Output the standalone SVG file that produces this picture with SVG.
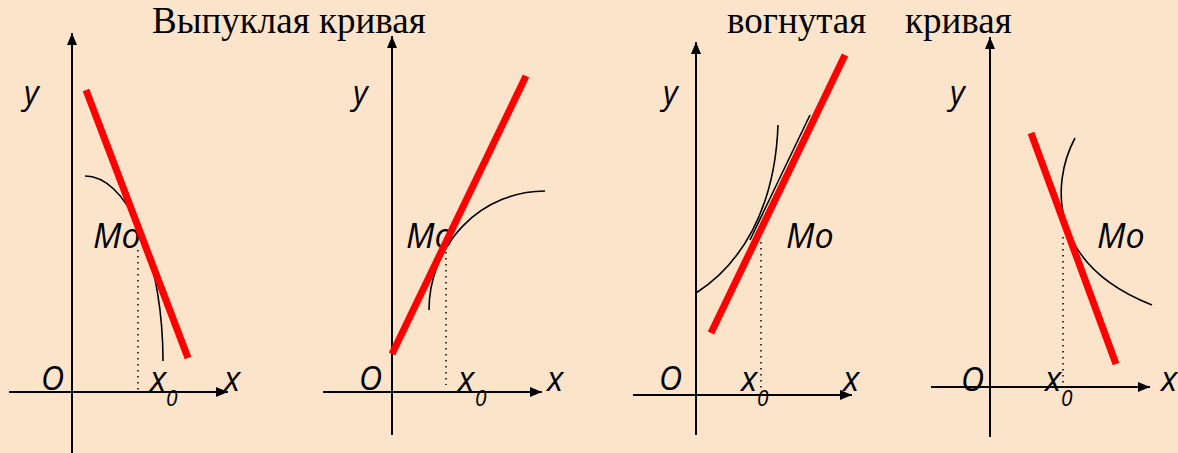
<svg xmlns="http://www.w3.org/2000/svg" width="1178" height="453" viewBox="0 0 1178 453">
<defs>
<marker id="ah" viewBox="0 0 12 10" refX="12" refY="5" markerWidth="12" markerHeight="10" markerUnits="userSpaceOnUse" orient="auto">
<path d="M0,0 L12,5 L0,10 Z" fill="#000"/>
</marker>
</defs>
<style>
.axis{stroke:#000;stroke-width:2;fill:none;marker-end:url(#ah)}
.tan{stroke:#ff0000;stroke-width:7;fill:none}
.crv{stroke:#000;stroke-width:1.6;fill:none}
.dot{stroke:#000;stroke-width:1.5;stroke-dasharray:1.5 4.5;fill:none}
.lb{font-family:"Open Sans","DejaVu Sans",sans-serif;font-style:italic;font-size:32px;fill:#000}
.mo{font-family:"Open Sans","DejaVu Sans",sans-serif;font-style:italic;font-size:34px;fill:#000}
.xl{font-family:"Open Sans","DejaVu Sans",sans-serif;font-style:italic;font-size:34px;fill:#000}
.sub{font-family:"Open Sans","DejaVu Sans",sans-serif;font-style:italic;font-size:21px;fill:#000}
.ttl{font-family:"Liberation Serif","Times New Roman",serif;font-size:37px;fill:#000}
</style>
<rect width="1178" height="453" fill="#fce4ca"/>
<g id="titles">
<text class="ttl" x="152" y="33">Выпуклая кривая</text>
<text class="ttl" x="727" y="33">вогнутая</text>
<text class="ttl" x="905" y="33">кривая</text>
</g>
<g id="panel1">
<path class="crv" d="M85,176 A78,185 0 0 1 163,361"/>
<path class="dot" d="M138,250 V390"/>
<text class="lb" x="24" y="104">y</text>
<text class="mo" x="93" y="248">Mo</text>
<text class="lb" x="41" y="390">O</text>
<text class="xl" x="150" y="391">x</text>
<text class="sub" x="166" y="406">0</text>
<text class="xl" x="224" y="391">x</text>
</g>
<g id="panel2">
<path class="crv" d="M429,310 A116,119 0 0 1 545,191"/>
<path class="dot" d="M446,252 V385"/>
<text class="lb" x="353" y="104">y</text>
<text class="mo" x="406" y="248">Mo</text>
<text class="lb" x="359" y="390">O</text>
<text class="xl" x="458" y="391">x</text>
<text class="sub" x="475" y="406">0</text>
<text class="xl" x="547" y="391">x</text>
</g>
<g id="panel3">
<path class="crv" d="M696,293 C740,265 775,210 778,125"/>
<path class="crv" d="M810,115 L750,240"/>
<path class="dot" d="M761,242 V388"/>
<text class="lb" x="663" y="104">y</text>
<text class="mo" x="786" y="248">Mo</text>
<text class="lb" x="659" y="390">O</text>
<text class="xl" x="741" y="391">x</text>
<text class="sub" x="757" y="406">0</text>
<text class="xl" x="843" y="391">x</text>
</g>
<g id="panel4">
<path class="crv" d="M1075,138 C1050,185 1050,265 1152,305"/>
<path class="dot" d="M1063,237 V385"/>
<text class="lb" x="950" y="104">y</text>
<text class="mo" x="1097" y="248">Mo</text>
<text class="lb" x="961" y="391">O</text>
<text class="xl" x="1045" y="391">x</text>
<text class="sub" x="1061" y="406">0</text>
<text class="xl" x="1161" y="391">x</text>
</g>
<g id="connectors">
<line class="axis" x1="72" y1="453" x2="72" y2="33"/>
<line class="axis" x1="9" y1="392" x2="228" y2="392"/>
<line class="tan" x1="86" y1="90" x2="188" y2="358"/>
<line class="axis" x1="392" y1="435" x2="392" y2="36"/>
<line class="axis" x1="323" y1="392" x2="542" y2="392"/>
<line class="tan" x1="392" y1="354" x2="526" y2="76"/>
<line class="axis" x1="696" y1="435" x2="696" y2="42"/>
<line class="axis" x1="633" y1="395" x2="852" y2="395"/>
<line class="tan" x1="711" y1="333" x2="845" y2="55"/>
<line class="axis" x1="990" y1="437" x2="990" y2="37"/>
<line class="axis" x1="931" y1="387" x2="1150" y2="387"/>
<line class="tan" x1="1031" y1="133" x2="1116" y2="364"/>
</g>
</svg>
